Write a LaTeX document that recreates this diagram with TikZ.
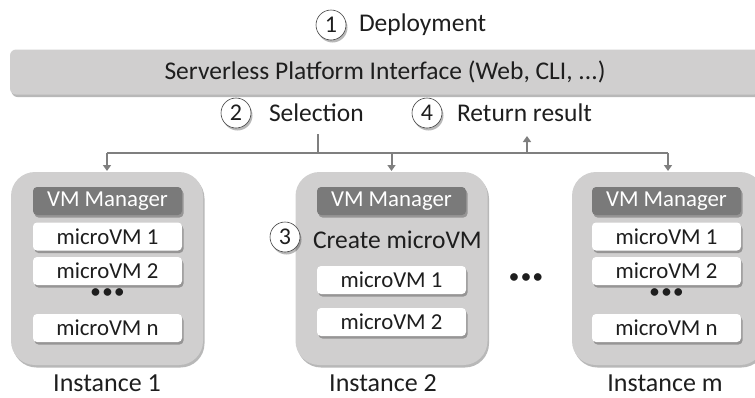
\documentclass[tikz,border=0pt]{standalone}
\usepackage{fontspec}
\setmainfont{Carlito}
\usetikzlibrary{shadows,arrows.meta}
\definecolor{panelgray}{HTML}{D0CFCF}
\definecolor{mgrgray}{HTML}{7A7A7A}
\definecolor{wiregray}{HTML}{7F7F7F}
\definecolor{inkgray}{HTML}{1E1E1E}
\begin{document}
\begin{tikzpicture}[x=1pt,y=-1pt,
  every node/.style={inner sep=0pt, outer sep=0pt, text=inkgray},
  softshadow/.style={drop shadow={shadow xshift=1.5pt, shadow yshift=-2.5pt, opacity=0.28, fill=black}},
  bar/.style={fill=panelgray, rounded corners=6pt, minimum width=750pt, minimum height=45pt,
    font=\fontsize{25.5}{30}\selectfont, softshadow},
  instbox/.style={fill=panelgray, rounded corners=24pt, minimum width=192pt, minimum height=193pt, softshadow},
  mgrbox/.style={fill=mgrgray, rounded corners=4pt, minimum width=149pt, minimum height=28pt,
    text=white, font=\fontsize{22.8}{26}\selectfont, softshadow},
  vmbox/.style={fill=white, rounded corners=4pt, minimum width=149pt, minimum height=28pt,
    font=\fontsize{22.8}{26}\selectfont, softshadow},
  stepnum/.style={circle, fill=white, draw=black!75, line width=0.6pt, minimum size=30pt,
    font=\fontsize{24}{28}\selectfont, softshadow},
  label/.style={anchor=west, font=\fontsize{25.5}{30}\selectfont},
  caption/.style={font=\fontsize{26}{30}\selectfont},
  dots/.style={font=\fontsize{18}{20}\selectfont\bfseries},
  wire/.style={draw=wiregray, line width=2pt},
  tip/.style={-{Triangle[length=6pt,width=8pt]}}
]
\useasboundingbox (0,0) rectangle (755,397);

% platform interface bar and deployment step
\node[bar] (api) at (385,72) {Serverless Platform Interface (Web, CLI, ...)};
\node[stepnum] (s1) at (331,25) {1};
\node[label] (deploy) at (359,25) {Deployment};

% step labels below the bar
\node[stepnum] (s2) at (236,113) {2};
\node[label] (select) at (269,113) {Selection};
\node[stepnum] (s4) at (427,113) {4};
\node[label] (result) at (457,113) {Return result};

% instances
\node[instbox] (inst1) at (107,268.5) {};
\node[instbox] (inst2) at (391.5,268.5) {};
\node[instbox] (instm) at (668,268.5) {};

% instance 1
\node[mgrbox] (mgr1) at (107.5,201) {VM Manager};
\node[vmbox] (vm11) at (107.5,236.5) {microVM 1};
\node[vmbox] (vm12) at (107.5,271) {microVM 2};
\node[dots] (dots1) at (107.5,293) {•\,•\,•};
\node[vmbox] (vm1n) at (107.5,328) {microVM n};
\node[caption] (cap1) at (107,383) {Instance 1};

% instance 2
\node[mgrbox] (mgr2) at (391.5,201) {VM Manager};
\node[stepnum] (s3) at (285,237) {3};
\node[label] (create) at (313,240) {Create microVM};
\node[vmbox] (vm21) at (391.5,280) {microVM 1};
\node[vmbox] (vm22) at (391.5,322) {microVM 2};
\node[caption] (cap2) at (383,383) {Instance 2};

% gap between instance 2 and instance m
\node[dots] (dotsmid) at (526,278) {•\,•\,•};

% instance m
\node[mgrbox] (mgrm) at (666.5,201) {VM Manager};
\node[vmbox] (vmm1) at (666.5,236.5) {microVM 1};
\node[vmbox] (vmm2) at (666.5,271) {microVM 2};
\node[dots] (dotsm) at (666.5,293) {•\,•\,•};
\node[vmbox] (vmmn) at (666.5,328) {microVM n};
\node[caption] (capm) at (665,383) {Instance m};

% request fan-out and result bus
\coordinate (busy) at (0,153);
\coordinate (selfoot) at (318,134);
\coordinate (rethead) at (527,136);
\draw[wire] (selfoot) -- (selfoot |- busy);
\draw[wire] (inst1.north |- busy) -- (instm.north |- busy);
\draw[wire,tip] (inst1.north |- busy) -- ([yshift=1pt]inst1.north);
\draw[wire,tip] (inst2.north |- busy) -- ([yshift=1pt]inst2.north);
\draw[wire,tip] (instm.north |- busy) -- ([yshift=1pt]instm.north);
\draw[wire,tip] (rethead |- busy) -- (rethead);
\end{tikzpicture}
\end{document}
